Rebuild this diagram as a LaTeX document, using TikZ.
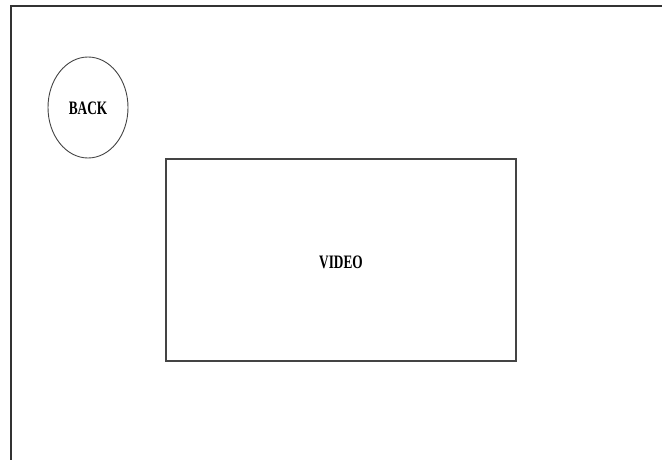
\documentclass[tikz,border=0pt]{standalone}
\usepackage{fontspec}
\setmainfont{Liberation Serif}
\usetikzlibrary{shapes.geometric}
\definecolor{Frame}{HTML}{333333}
\definecolor{Edge}{HTML}{444444}
\newcommand{\screenlabel}[1]{\fontsize{19}{21}\selectfont\bfseries #1}
\tikzset{
  backbtn/.style={draw=Edge,line width=0.9pt,ellipse,minimum width=80pt,minimum height=101pt,inner sep=0pt},
  videobox/.style={draw=Edge,line width=1.1pt,rectangle,minimum width=350pt,minimum height=202pt,inner sep=0pt},
  squeezed/.style={xscale=0.7}
}

\begin{document}
\begin{tikzpicture}[x=1pt,y=-1pt]
\useasboundingbox (0,0) rectangle (662,460);
\draw[line width=2pt,Frame] (10.5,470) -- (10.5,6) -- (672,6);
\node[backbtn] (back) at (88,107.5) {};
\node[squeezed] (backtext) at ([yshift=-1pt]back.center) {\screenlabel{BACK}};
\node[videobox] (video) at (341,260) {};
\node[squeezed] (videotext) at ([yshift=-2pt]video.center) {\screenlabel{VIDEO}};
\end{tikzpicture}
\end{document}
